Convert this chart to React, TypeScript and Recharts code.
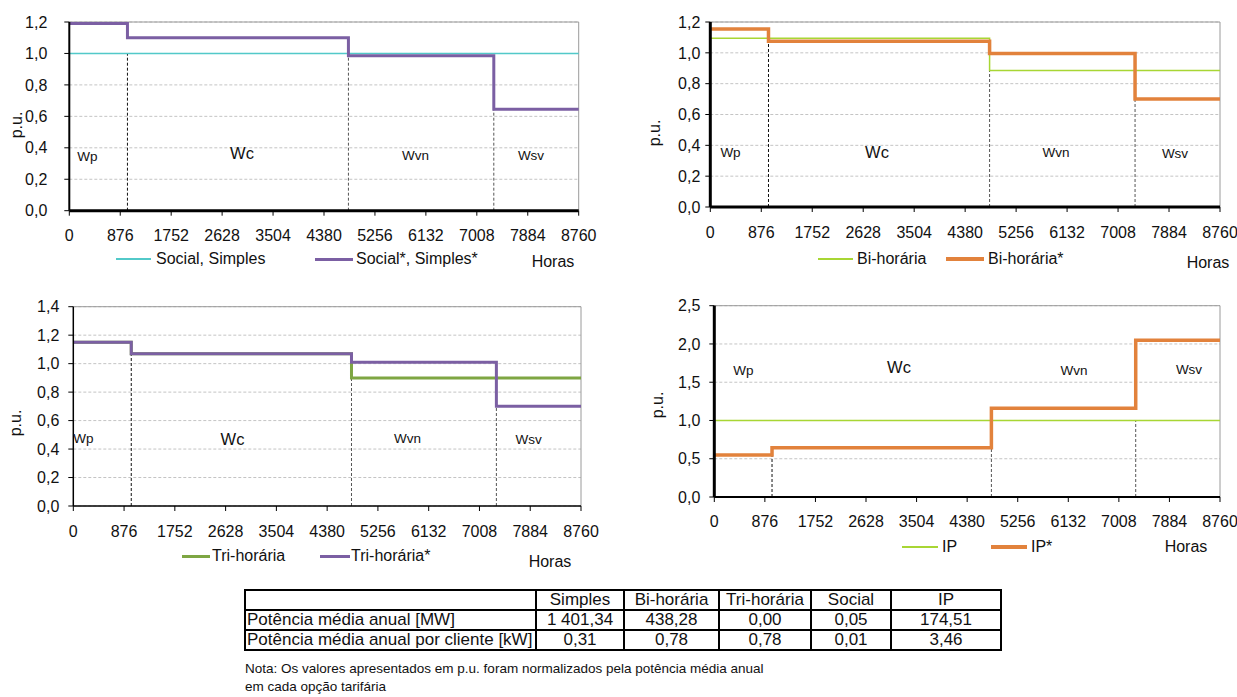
import React from 'react';
import { LineChart, Line, XAxis, YAxis, CartesianGrid, ReferenceLine } from 'recharts';

const FONT = '"Liberation Sans", Arial, Helvetica, sans-serif';

// ─── Data ────────────────────────────────────────────────────────────────────

const HOUR_TICKS = [0, 876, 1752, 2628, 3504, 4380, 5256, 6132, 7008, 7884, 8760];
const PERIOD_START = [0, 1000, 4800, 7300];
const YEAR_END = 8760;
const PERIOD_NAMES = ['Wp', 'Wc', 'Wvn', 'Wsv'];

// p.u. value per period (Wp, Wc, Wvn, Wsv)
const SOCIAL = [1.0, 1.0, 1.0, 1.0];
const SOCIAL_STAR = [1.19, 1.1, 0.985, 0.645];
const BI = [1.095, 1.095, 0.885, 0.885];
const BI_STAR = [1.155, 1.075, 0.995, 0.7];
const TRI = [1.15, 1.07, 0.9, 0.9];
const TRI_STAR = [1.15, 1.07, 1.01, 0.7];
const IP = [1.0, 1.0, 1.0, 1.0];
const IP_STAR = [0.55, 0.645, 1.16, 2.05];

const TICKS_12 = [0, 0.2, 0.4, 0.6, 0.8, 1.0, 1.2];
const TICKS_14 = [0, 0.2, 0.4, 0.6, 0.8, 1.0, 1.2, 1.4];
const TICKS_25 = [0, 0.5, 1.0, 1.5, 2.0, 2.5];

const TABLE_HEAD = ['Simples', 'Bi-horária', 'Tri-horária', 'Social', 'IP'];
const ROW_LABELS = ['Potência média anual [MW]', 'Potência média anual por cliente [kW]'];
const MEAN_MW = ['1 401,34', '438,28', '0,00', '0,05', '174,51'];
const MEAN_KW = ['0,31', '0,78', '0,78', '0,01', '3,46'];

// ─── Helpers ─────────────────────────────────────────────────────────────────

interface Series {
  name: string;
  values: number[];
  color: string;
  width: number;
}

function buildRows(series: Series[]) {
  const hours = [...PERIOD_START, YEAR_END];
  return hours.map((h, i) => {
    const row: Record<string, number> = { h };
    series.forEach((s, k) => {
      row['s' + k] = s.values[Math.min(i, s.values.length - 1)];
    });
    return row;
  });
}

const fmt = (v: number) => v.toFixed(1).replace('.', ',');

interface Pt { x: number; y: number; }

interface PanelProps {
  box: { left: number; top: number; width: number; height: number };
  plot: { left: number; right: number; top: number; bottom: number };
  yMax: number;
  yTicks: number[];
  yGap: number;
  xGap: number;
  yAxisW: number;
  xAxisW: number;
  series: Series[];
  yTitle: Pt;
  labels: { x: number; y: number; size: number }[];
  legend: { x1: number; x2: number; tx: number; y: number }[];
  horas: Pt;
}

function StepPanel(p: PanelProps) {
  const rows = buildRows(p.series);
  const xh = 40;
  const margin = {
    top: p.plot.top - p.box.top,
    right: p.box.left + p.box.width - p.plot.right,
    left: 0,
    bottom: p.box.top + p.box.height - p.plot.bottom - xh,
  };
  const tick = { fontSize: 16, fill: '#111', fontFamily: FONT };

  return (
    <>
      <div style={{ position: 'absolute', left: p.box.left, top: p.box.top }}>
        <LineChart width={p.box.width} height={p.box.height} data={rows} margin={margin}>
          <CartesianGrid vertical={false} stroke="#c4c4c4" strokeDasharray="3 2" />
          <ReferenceLine y={p.yMax} stroke="#9a9a9a" strokeWidth={1} />
          <ReferenceLine x={YEAR_END} stroke="#9a9a9a" strokeWidth={1} />
          {PERIOD_START.slice(1).map((h, i) => {
            // dashed marker runs from the axis up to the lowest step at this boundary
            const top = Math.min(...p.series.flatMap((s) => [s.values[i], s.values[i + 1]]));
            return (
              <ReferenceLine
                key={h}
                segment={[{ x: h, y: 0 }, { x: h, y: top }]}
                stroke={i === 0 ? '#111' : '#555'}
                strokeDasharray="3 2"
              />
            );
          })}
          {p.series.map((s, k) => (
            <Line
              key={s.name}
              type="stepAfter"
              dataKey={'s' + k}
              stroke={s.color}
              strokeWidth={s.width}
              dot={false}
              activeDot={false}
              isAnimationActive={false}
            />
          ))}
          <XAxis
            dataKey="h"
            type="number"
            domain={[0, YEAR_END]}
            ticks={HOUR_TICKS}
            interval={0}
            height={xh}
            tick={tick}
            tickSize={5}
            tickMargin={p.xGap}
            tickLine={{ stroke: '#000' }}
            axisLine={{ stroke: '#000', strokeWidth: p.xAxisW }}
          />
          <YAxis
            type="number"
            domain={[0, p.yMax]}
            ticks={p.yTicks}
            interval={0}
            width={p.plot.left - p.box.left}
            tick={tick}
            tickSize={5}
            tickMargin={p.yGap}
            tickFormatter={fmt}
            tickLine={{ stroke: '#000' }}
            axisLine={{ stroke: '#000', strokeWidth: p.yAxisW }}
          />
        </LineChart>
      </div>

      <div
        style={{
          position: 'absolute', left: p.yTitle.x, top: p.yTitle.y, fontSize: 16,
          transform: 'translate(-50%, -50%) rotate(-90deg)', whiteSpace: 'nowrap',
        }}
      >
        p.u.
      </div>

      {p.labels.map((l, i) => (
        <div
          key={i}
          style={{
            position: 'absolute', left: l.x, top: l.y, fontSize: l.size,
            transform: 'translate(-50%, -50%)', whiteSpace: 'nowrap',
          }}
        >
          {PERIOD_NAMES[i]}
        </div>
      ))}

      {p.legend.map((g, i) => (
        <React.Fragment key={i}>
          <div
            style={{
              position: 'absolute', left: g.x1, width: g.x2 - g.x1,
              top: g.y - Math.max(p.series[i].width, 1.5) / 2,
              height: Math.max(p.series[i].width, 1.5), background: p.series[i].color,
            }}
          />
          <div
            style={{
              position: 'absolute', left: g.tx, top: g.y, fontSize: 16,
              transform: 'translateY(-50%)', whiteSpace: 'nowrap',
            }}
          >
            {p.series[i].name}
          </div>
        </React.Fragment>
      ))}

      <div
        style={{
          position: 'absolute', left: p.horas.x, top: p.horas.y, fontSize: 16,
          transform: 'translate(-50%, -50%)',
        }}
      >
        Horas
      </div>
    </>
  );
}

// ─── Table ───────────────────────────────────────────────────────────────────

const COL_W = [291, 88, 95, 92, 80, 110];

function SummaryTable() {
  const cell: React.CSSProperties = {
    border: '2px solid #000', height: 18, padding: 0, lineHeight: '18px',
    textAlign: 'center', whiteSpace: 'nowrap',
  };
  const rows = [MEAN_MW, MEAN_KW];
  return (
    <>
      <table
        style={{
          position: 'absolute', left: 244, top: 589, borderCollapse: 'collapse',
          tableLayout: 'fixed', fontSize: 17, fontFamily: FONT,
        }}
      >
        <colgroup>
          {COL_W.map((w, i) => <col key={i} style={{ width: w }} />)}
        </colgroup>
        <tbody>
          <tr>
            <td style={cell} />
            {TABLE_HEAD.map((h) => <td key={h} style={cell}>{h}</td>)}
          </tr>
          {rows.map((r, i) => (
            <tr key={i}>
              <td style={{ ...cell, textAlign: 'left', paddingLeft: 1 }}>{ROW_LABELS[i]}</td>
              {r.map((v, k) => <td key={k} style={cell}>{v}</td>)}
            </tr>
          ))}
        </tbody>
      </table>
      <div
        style={{
          position: 'absolute', left: 245, top: 660, fontSize: 13.5, lineHeight: '18px',
          whiteSpace: 'nowrap',
        }}
      >
        Nota: Os valores apresentados em p.u. foram normalizados pela potência média anual
        <br />
        em cada opção tarifária
      </div>
    </>
  );
}

// ─── App ─────────────────────────────────────────────────────────────────────

const PURPLE = '#7b5fa3';
const ORANGE = '#e2823c';
const LIME = '#a8d634';

export default function App() {
  return (
    <div
      style={{
        position: 'absolute', left: 0, top: 0, width: 1237, height: 697,
        background: '#fff', overflow: 'hidden', fontFamily: FONT, color: '#111',
      }}
    >
      <StepPanel
        box={{ left: 0, top: 0, width: 600, height: 290 }}
        plot={{ left: 69.3, right: 578.7, top: 22, bottom: 210.7 }}
        yMax={1.2}
        yTicks={TICKS_12}
        yGap={17}
        xGap={14}
        yAxisW={2}
        xAxisW={3}
        series={[
          { name: 'Social, Simples', values: SOCIAL, color: '#52c9c9', width: 1.5 },
          { name: 'Social*, Simples*', values: SOCIAL_STAR, color: PURPLE, width: 3 },
        ]}
        yTitle={{ x: 16.7, y: 125 }}
        labels={[
          { x: 87.3, y: 156, size: 13.5 },
          { x: 242, y: 153, size: 16.5 },
          { x: 415.5, y: 155, size: 13.5 },
          { x: 531, y: 155, size: 13.5 },
        ]}
        legend={[
          { x1: 116, x2: 151, tx: 156, y: 259 },
          { x1: 315, x2: 353, tx: 356, y: 259 },
        ]}
        horas={{ x: 553, y: 262 }}
      />

      <StepPanel
        box={{ left: 620, top: 0, width: 617, height: 290 }}
        plot={{ left: 710.3, right: 1220, top: 22, bottom: 207 }}
        yMax={1.2}
        yTicks={TICKS_12}
        yGap={5}
        xGap={15}
        yAxisW={3}
        xAxisW={3}
        series={[
          { name: 'Bi-horária', values: BI, color: LIME, width: 1.5 },
          { name: 'Bi-horária*', values: BI_STAR, color: ORANGE, width: 3.5 },
        ]}
        yTitle={{ x: 655, y: 133 }}
        labels={[
          { x: 730.5, y: 152, size: 13.5 },
          { x: 877, y: 152, size: 16.5 },
          { x: 1056, y: 152, size: 13.5 },
          { x: 1175, y: 153, size: 13.5 },
        ]}
        legend={[
          { x1: 818, x2: 853, tx: 857, y: 259 },
          { x1: 946, x2: 984, tx: 988, y: 259 },
        ]}
        horas={{ x: 1208, y: 263 }}
      />

      <StepPanel
        box={{ left: 0, top: 290, width: 600, height: 290 }}
        plot={{ left: 73.3, right: 581, top: 306.7, bottom: 506 }}
        yMax={1.4}
        yTicks={TICKS_14}
        yGap={9}
        xGap={15}
        yAxisW={1.5}
        xAxisW={1.5}
        series={[
          { name: 'Tri-horária', values: TRI, color: '#7ea643', width: 3 },
          { name: 'Tri-horária*', values: TRI_STAR, color: PURPLE, width: 3 },
        ]}
        yTitle={{ x: 16, y: 423 }}
        labels={[
          { x: 83.4, y: 438, size: 13.5 },
          { x: 232.5, y: 439, size: 16.5 },
          { x: 407.4, y: 438, size: 13.5 },
          { x: 528.6, y: 439, size: 13.5 },
        ]}
        legend={[
          { x1: 182, x2: 210, tx: 212, y: 556 },
          { x1: 320, x2: 350, tx: 351, y: 556 },
        ]}
        horas={{ x: 550, y: 562 }}
      />

      <StepPanel
        box={{ left: 620, top: 290, width: 617, height: 290 }}
        plot={{ left: 714.3, right: 1220, top: 305.7, bottom: 497 }}
        yMax={2.5}
        yTicks={TICKS_25}
        yGap={9}
        xGap={13.5}
        yAxisW={3}
        xAxisW={2}
        series={[
          { name: 'IP', values: IP, color: LIME, width: 1.5 },
          { name: 'IP*', values: IP_STAR, color: ORANGE, width: 3.5 },
        ]}
        yTitle={{ x: 657.7, y: 405 }}
        labels={[
          { x: 743.3, y: 370, size: 13.5 },
          { x: 899, y: 367, size: 16.5 },
          { x: 1074, y: 370, size: 13.5 },
          { x: 1189, y: 369, size: 13.5 },
        ]}
        legend={[
          { x1: 902, x2: 938, tx: 942, y: 547 },
          { x1: 990.6, x2: 1027, tx: 1031, y: 547 },
        ]}
        horas={{ x: 1186, y: 547 }}
      />

      <SummaryTable />
    </div>
  );
}
